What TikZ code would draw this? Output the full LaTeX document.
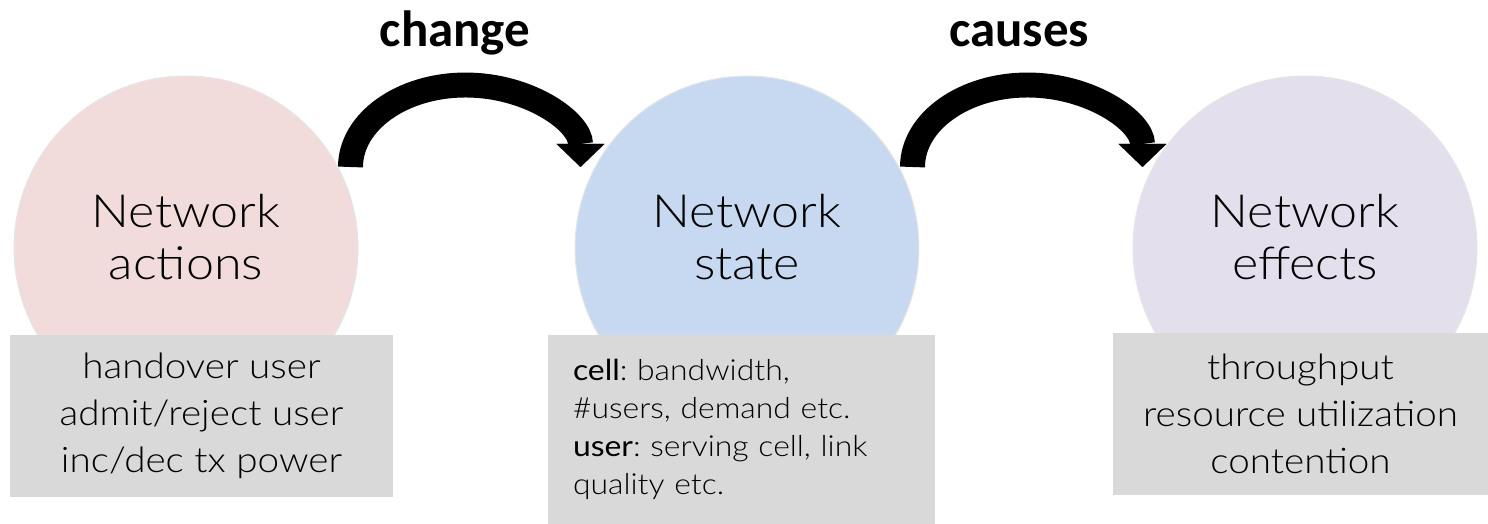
\documentclass[tikz,border=0pt]{standalone}
\usepackage{fontspec}
\setmainfont{Lato}[UprightFont={* Light},BoldFont={*},FakeStretch=1.1]
\newfontfamily\labelfont{Carlito}
\usetikzlibrary{arrows.meta}
\definecolor{actfill}{HTML}{F2DCDB}
\definecolor{statefill}{HTML}{C6D9F1}
\definecolor{efffill}{HTML}{E4DFEC}
\definecolor{boxfill}{HTML}{D9D9D9}
\frenchspacing
\begin{document}
\begin{tikzpicture}[x=0.02cm,y=-0.02cm,
    bubble/.style={circle,minimum size=6.88cm,inner sep=0pt,draw=black!10,line width=0.6pt},
    bubbletext/.style={align=center,font=\fontsize{26}{29.6}\selectfont},
    infobox/.style={fill=boxfill,inner sep=0pt,align=center,font=\fontsize{20}{26.7}\selectfont},
    bendarrow/.style={line width=14.2pt,-{Triangle[width=27.3pt,length=13.1pt,line width=0.01pt]}},
    arrowlabel/.style={anchor=base,font=\labelfont\bfseries\fontsize{29}{32}\selectfont}]
    \useasboundingbox (0,0) rectangle (1488,524);

    % Lingkaran
    \node[bubble,fill=actfill] (act) at (186,248) {};
    \node[bubble,fill=statefill] (state) at (747,248) {};
    \node[bubble,fill=efffill] (eff) at (1305,248) {};

    % Judul lingkaran
    \node[bubbletext] (acttext) at (186,237) {Network\\actions};
    \node[bubbletext] (statetext) at (747,237) {Network\\state};
    \node[bubbletext] (efftext) at (1305,237) {Network\\effects};

    % Kotak keterangan
    \node[infobox,minimum width=7.66cm,minimum height=3.24cm] (actbox) at (201.5,416)
        {handover user\\admit/reject user\\inc/dec tx power};
    \node[infobox,minimum width=7.74cm,minimum height=3.78cm,align=left,text width=6.74cm,
        font=\fontsize{16.5}{21.6}\selectfont] (statebox) at (741.5,429.5)
        {\textbf{cell}: bandwidth,\\\#users, demand etc.\\\textbf{user}: serving cell, link\\quality etc.};
    \node[infobox,minimum width=7.5cm,minimum height=3.24cm] (effbox) at (1300.5,414)
        {throughput\\resource utilization\\contention};

    % Panah melengkung
    \coordinate (chgstart) at (350.5,167);
    \coordinate (caustart) at (912.5,167);
    \draw[bendarrow] (chgstart) arc[start angle=180,end angle=360,x radius=115,y radius=82];
    \draw[bendarrow] (caustart) arc[start angle=180,end angle=360,x radius=115,y radius=82];

    % Label panah
    \node[arrowlabel] (chglabel) at (455,46) {change};
    \node[arrowlabel] (caulabel) at (1019,46) {causes};
\end{tikzpicture}
\end{document}
